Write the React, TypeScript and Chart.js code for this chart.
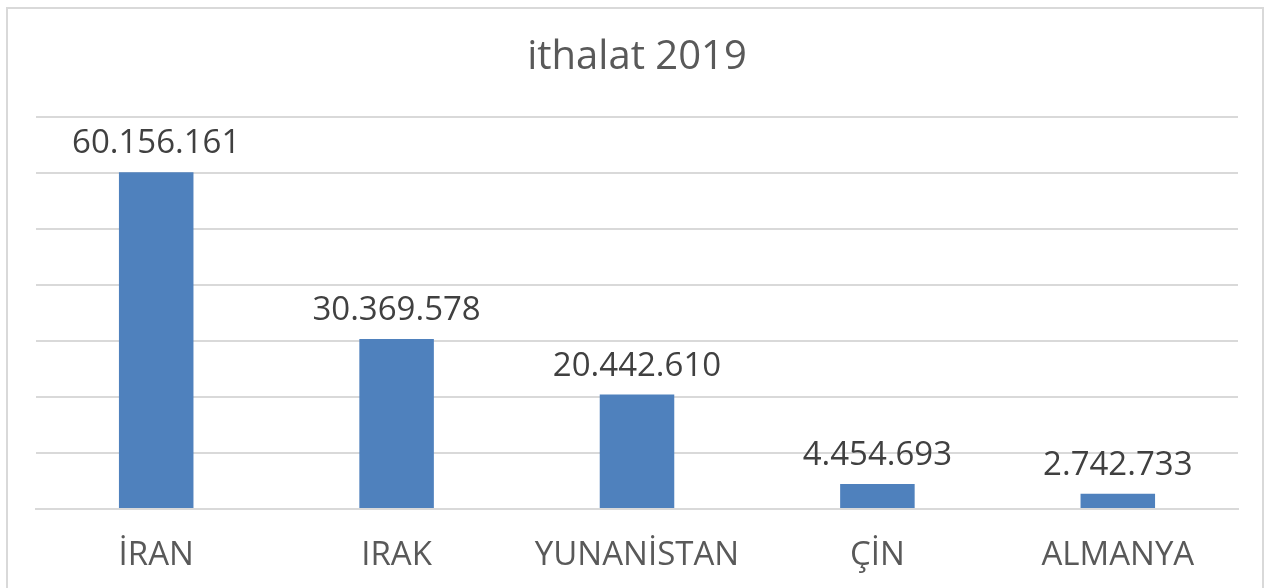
import React, { useEffect, useRef } from "react";
import { Chart, registerables } from "chart.js";

Chart.register(...registerables);

const categories = ["İRAN", "IRAK", "YUNANİSTAN", "ÇİN", "ALMANYA"];
const values = [60156161, 30369578, 20442610, 4454693, 2742733];
const chartTitle = "ithalat 2019";
const yMax = 70000000;
const yStep = 10000000;

const W = 1269;
const H = 588;

function formatDots(n: number): string {
  const s = Math.round(n).toString();
  return s.replace(/\B(?=(\d{3})+(?!\d))/g, ".");
}

const valueLabels = {
  id: "valueLabels",
  afterDatasetsDraw(chart: any) {
    const ctx = chart.ctx;
    const meta = chart.getDatasetMeta(0);
    ctx.save();
    ctx.font = "33px 'Open Sans'";
    ctx.fillStyle = "#404040";
    ctx.textAlign = "center";
    ctx.textBaseline = "alphabetic";
    meta.data.forEach((bar: any, i: number) => {
      const v = chart.data.datasets[0].data[i];
      ctx.fillText(formatDots(v), bar.x, bar.y - 19);
    });
    ctx.restore();
  },
};

export default function App() {
  const ref = useRef<HTMLCanvasElement | null>(null);
  useEffect(() => {
    if (!ref.current) return;
    const chart = new Chart(ref.current, {
      type: "bar",
      data: {
        labels: categories,
        datasets: [
          {
            data: values,
            backgroundColor: "#4F81BD",
            borderWidth: 0,
            barPercentage: 0.31,
            categoryPercentage: 1,
          },
        ],
      },
      options: {
        responsive: false,
        animation: false,
        layout: { padding: { left: 36, right: 31, top: 0, bottom: 0 } },
        plugins: {
          legend: { display: false },
          tooltip: { enabled: false },
          title: {
            display: true,
            text: chartTitle,
            color: "#595959",
            font: { family: "'Open Sans'", size: 40, weight: "normal" as any },
            padding: { top: 34, bottom: 35 },
          },
        },
        scales: {
          x: {
            grid: { display: false, drawTicks: false },
            border: { display: true, color: "#d9d9d9", width: 2 },
            ticks: {
              color: "#595959",
              font: { family: "'Open Sans'", size: 33 },
              padding: 27,
              maxRotation: 0,
              autoSkip: false,
            },
            afterFit: (scale: any) => {
              scale.height = 79;
            },
          },
          y: {
            min: 0,
            max: yMax,
            ticks: { display: false, stepSize: yStep },
            grid: { color: "#d9d9d9", lineWidth: 2, drawTicks: false },
            border: { display: false },
            afterFit: (scale: any) => {
              scale.width = 0;
            },
          },
        },
      },
      plugins: [valueLabels],
    });
    return () => chart.destroy();
  }, []);

  return (
    <div style={{ position: "fixed", left: 0, top: 0, width: W, height: H, background: "#fff", overflow: "hidden" }}>
      <div
        style={{
          position: "absolute",
          left: 6,
          top: 7,
          width: 1258,
          height: 620,
          border: "2px solid #d9d9d9",
          boxSizing: "border-box",
        }}
      />
      <canvas ref={ref} width={W} height={H} style={{ position: "absolute", left: 0, top: 0, display: "block" }} />
    </div>
  );
}
